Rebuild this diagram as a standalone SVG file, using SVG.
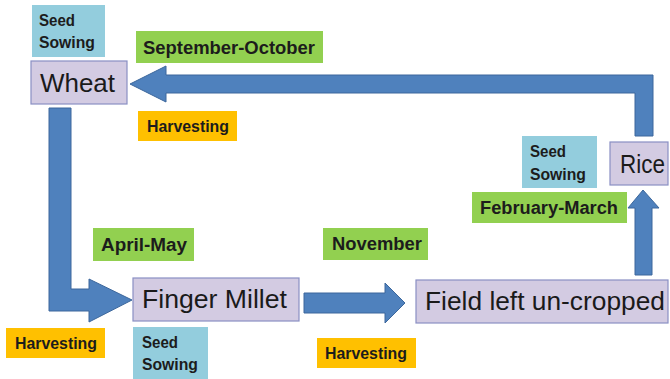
<svg xmlns="http://www.w3.org/2000/svg" width="670" height="379" viewBox="0 0 670 379">
<style>
.crop{fill:#d3cbe2;stroke:#8a8fc4;stroke-width:1.2}
.seed{fill:#93cddd}
.month{fill:#92d050}
.harv{fill:#ffc000}
.arrow{fill:#4f81bd;stroke:#3c679c;stroke-width:1}
.big{font-family:"Liberation Sans",Arial,sans-serif;font-size:25px;fill:#1a1a1a}
.lab{font-family:"Liberation Sans",Arial,sans-serif;font-weight:bold;font-size:16.5px;fill:#1c1c1c}
.mlab{font-family:"Liberation Sans",Arial,sans-serif;font-weight:bold;font-size:18px;fill:#1c1c1c}
</style>
<rect width="670" height="379" fill="#ffffff"/>
<g id="connectors">
<polygon class="arrow" points="635,136 653,136 653,75 166,75 166,66 130,84 166,102 166,93 635,93"/>
<polygon class="arrow" points="49,108 71,108 71,289 89,289 89,279 132,300 89,322 89,311 49,311"/>
<polygon class="arrow" points="304,293 385,293 385,283 405,303 385,323 385,313 304,313"/>
<polygon class="arrow" points="635,275 652,275 652,208 659,208 643,190 628,208 635,208"/>
</g>
<g id="wheat">
<rect class="crop" x="31" y="61" width="96" height="43"/>
<text class="big" x="40" y="92" textLength="75" lengthAdjust="spacingAndGlyphs">Wheat</text>
</g>
<g id="finger-millet">
<rect class="crop" x="133" y="278" width="166" height="43"/>
<text class="big" x="142" y="308" font-size="26" textLength="145" lengthAdjust="spacingAndGlyphs">Finger Millet</text>
</g>
<g id="field-left">
<rect class="crop" x="416" y="280" width="252" height="43"/>
<text class="big" x="425" y="310" font-size="26" textLength="240" lengthAdjust="spacingAndGlyphs">Field left un-cropped</text>
</g>
<g id="rice">
<rect class="crop" x="610" y="142" width="58" height="43"/>
<text class="big" x="620" y="173" font-size="25" textLength="45" lengthAdjust="spacingAndGlyphs">Rice</text>
</g>
<g id="seed-wheat">
<rect class="seed" x="32" y="5" width="73" height="52"/>
<text class="lab" x="39" y="26" textLength="36" lengthAdjust="spacingAndGlyphs">Seed</text>
<text class="lab" x="39" y="48" textLength="56" lengthAdjust="spacingAndGlyphs">Sowing</text>
</g>
<g id="month-sep-oct">
<rect class="month" x="136" y="31" width="187" height="32"/>
<text class="mlab" x="143" y="54" textLength="172" lengthAdjust="spacingAndGlyphs">September-October</text>
</g>
<g id="harv-wheat">
<rect class="harv" x="138" y="111" width="99" height="30"/>
<text class="lab" x="147" y="132" textLength="82" lengthAdjust="spacingAndGlyphs">Harvesting</text>
</g>
<g id="month-apr-may">
<rect class="month" x="93" y="228" width="101" height="33"/>
<text class="mlab" x="101" y="251" textLength="86" lengthAdjust="spacingAndGlyphs">April-May</text>
</g>
<g id="harv-millet">
<rect class="harv" x="6" y="328" width="99" height="30"/>
<text class="lab" x="15" y="349" textLength="82" lengthAdjust="spacingAndGlyphs">Harvesting</text>
</g>
<g id="seed-millet">
<rect class="seed" x="133" y="327" width="75" height="52"/>
<text class="lab" x="142" y="348" textLength="36" lengthAdjust="spacingAndGlyphs">Seed</text>
<text class="lab" x="142" y="370" textLength="56" lengthAdjust="spacingAndGlyphs">Sowing</text>
</g>
<g id="month-nov">
<rect class="month" x="323" y="228" width="105" height="32"/>
<text class="mlab" x="332" y="250" textLength="90" lengthAdjust="spacingAndGlyphs">November</text>
</g>
<g id="harv-field">
<rect class="harv" x="317" y="338" width="99" height="30"/>
<text class="lab" x="325" y="359" textLength="82" lengthAdjust="spacingAndGlyphs">Harvesting</text>
</g>
<g id="month-feb-mar">
<rect class="month" x="472" y="192" width="155" height="31"/>
<text class="mlab" x="480" y="214" textLength="138" lengthAdjust="spacingAndGlyphs">February-March</text>
</g>
<g id="seed-rice">
<rect class="seed" x="522" y="136" width="75" height="52"/>
<text class="lab" x="530" y="157" textLength="36" lengthAdjust="spacingAndGlyphs">Seed</text>
<text class="lab" x="530" y="180" textLength="56" lengthAdjust="spacingAndGlyphs">Sowing</text>
</g>
</svg>
